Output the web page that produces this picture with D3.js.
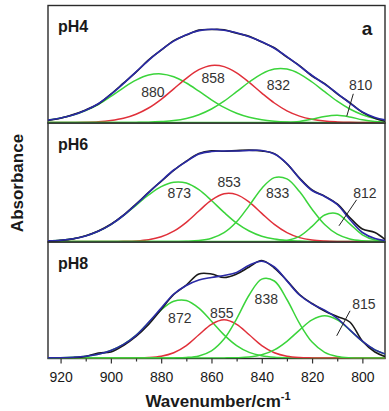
<!DOCTYPE html>
<html>
<head>
<meta charset="utf-8">
<script src="https://cdn.jsdelivr.net/npm/d3@7"></script>
<style>
  body { margin: 0; background: #fff; }
  text { font-family: "Liberation Sans", Arial, sans-serif; fill: #1a1a1a; }
</style>
</head>
<body>
<script>
// wavenumber grid (cm-1) shared by every curve
let wavenumbers = [925, 920, 915, 910, 905, 900, 895, 890, 885, 880, 875, 870, 865, 860,
    855, 850, 845, 840, 835, 830, 825, 820, 815, 810, 805, 800, 795, 790]

// pH4 (absorbance, arbitrary units)
let ph4_exp = [2.1, 4.2, 7.9, 12.6, 18.5, 28.4, 39.3, 50.3, 62.6, 72.3, 81.9, 87.4, 92.4, 93.0,
    92.7, 89.2, 86.2, 80.4, 74.7, 65.3, 56.9, 46.5, 38.8, 28.6, 19.9, 10.1, 4.3, 0.6]
let ph4_fit = [2.5, 4.5, 7.6, 12.3, 18.8, 28.1, 38.9, 50.7, 62.2, 72.7, 81.4, 87.8, 91.9, 93.3,
    92.3, 89.7, 85.8, 80.8, 74.2, 65.8, 56.4, 47.0, 38.3, 29.2, 19.3, 10.6, 5.0, 2.1]
let ph4_880 = [2.5, 4.5, 7.5, 12, 18, 26.1, 34.7, 42.3, 47.4, 48.6, 45.8, 39.5, 31.3, 22.7,
    15.1, 9.2, 5.2, 2.7, 1.3, 0.5, 0.2, 0, 0, 0, 0, 0, 0, 0]
let ph4_858 = [0, 0, 0.1, 0.3, 0.8, 2.0, 4.2, 8.3, 14.5, 23.2, 33.7, 44.2, 52.8, 57.1,
    55.9, 49.7, 40.1, 29.4, 19.5, 11.7, 6.4, 3.2, 1.4, 0.6, 0.2, 0.1, 0, 0]
let ph4_832 = [0, 0, 0, 0, 0, 0, 0, 0.1, 0.3, 0.9, 1.9, 4.1, 7.8, 13.5,
    21.3, 30.8, 40.5, 48.7, 53.4, 53.4, 48.7, 40.5, 30.8, 21.3, 13.5, 7.8, 4.1, 1.9]
let ph4_810 = [0, 0, 0, 0, 0, 0, 0, 0, 0, 0, 0, 0, 0, 0,
    0, 0, 0, 0, 0, 0.2, 1.1, 3.3, 6.1, 7.3, 5.6, 2.7, 0.9, 0.2]

// pH6
let ph6_exp = [0.3, 1.1, 2.6, 5.8, 10.5, 17.2, 26.3, 37.4, 49.1, 60.2, 71.2, 80.4, 87.9, 90.6,
    90.2, 90.9, 91.4, 90.6, 87.9, 77.6, 63.4, 51.5, 45.4, 37.6, 24.0, 12.5, 9.0, 0]
let ph6_fit = [0.6, 1.3, 2.8, 5.6, 10.2, 16.9, 26.0, 37.0, 48.8, 60.5, 71.5, 80.0, 87.5, 90.0,
    90.5, 90.5, 91.0, 91.0, 87.5, 78.0, 63.0, 51.0, 45.0, 37.0, 22.0, 9.0, 3.0, 0.5]
let ph6_873 = [0.6, 1.3, 2.8, 5.6, 10.2, 16.9, 25.8, 36.2, 46.5, 54.9, 59.3, 58.5, 51.8, 41.0,
    29.1, 18.4, 10.5, 5.3, 2.4, 1.0, 0.4, 0.1, 0, 0, 0, 0, 0, 0]
let ph6_853 = [0, 0, 0, 0, 0, 0, 0.2, 0.6, 1.8, 4.7, 10.3, 19.2, 30.5, 41.3,
    47.7, 46.9, 39.4, 28.1, 17.1, 8.9, 3.9, 1.5, 0.5, 0.1, 0, 0, 0, 0]
let ph6_833 = [0, 0, 0, 0, 0, 0, 0, 0, 0, 0, 0, 0.2, 0.9, 3.2,
    8.8, 19.7, 35.9, 53.1, 63.9, 62.6, 49.9, 32.3, 17.0, 7.3, 2.5, 0.7, 0.2, 0]
let ph6_812 = [0, 0, 0, 0, 0, 0, 0, 0, 0, 0, 0, 0, 0, 0,
    0, 0, 0, 0, 0.1, 1.1, 5.2, 15.1, 26.5, 27.8, 17.6, 6.7, 1.5, 0.2]

// pH8
let ph8_exp = [0, 0, 0.3, 1.5, 5.0, 6.0, 12.5, 21.5, 33.5, 48.5, 63.5, 73.0, 84.0, 84.0,
    80.5, 84.0, 91.0, 97.5, 90.0, 77.5, 63.5, 54.5, 47.0, 41.5, 36.0, 17.0, 6.0, 0.5]
let ph8_fit = [0.1, 0.3, 0.8, 1.8, 3.8, 7.5, 13.6, 22.7, 35.7, 49.9, 64.0, 72.5, 78.0, 80.5,
    82.5, 85.6, 92.8, 96.7, 91.0, 77.1, 63.0, 54.1, 47.9, 39.7, 28.2, 16.8, 8.1, 3.2]
let ph8_872 = [0.1, 0.3, 0.8, 1.8, 3.8, 7.5, 13.6, 22.6, 35.3, 48.2, 56.7, 57.5, 49.8, 36.7,
    23.1, 12.4, 5.6, 2.2, 0.7, 0.2, 0.1, 0, 0, 0, 0, 0, 0, 0]
let ph8_855 = [0, 0, 0, 0, 0, 0, 0, 0.1, 0.4, 1.7, 5.2, 12.4, 23.2, 33.7,
    38.2, 33.7, 23.2, 12.4, 5.2, 1.7, 0.4, 0.1, 0, 0, 0, 0, 0, 0]
let ph8_838 = [0, 0, 0, 0, 0, 0, 0, 0, 0, 0, 0.1, 0.5, 2.1, 7.2,
    19.0, 39.2, 63.0, 78.9, 77.0, 58.5, 34.6, 15.9, 5.7, 1.6, 0.3, 0.1, 0, 0]
let ph8_815 = [0, 0, 0, 0, 0, 0, 0, 0, 0, 0, 0, 0, 0, 0,
    0.1, 0.3, 1.0, 3.2, 8.1, 16.7, 27.9, 38.1, 42.2, 38.1, 27.9, 16.7, 8.1, 3.2]

let panelNames = ["pH4", "pH6", "pH8"]
let peakNames = [["880", "858", "832", "810"], ["873", "853", "833", "812"], ["872", "855", "838", "815"]]
let majorTicks = [920, 900, 880, 860, 840, 820, 800]
let minorTicks = [910, 890, 870, 850, 830, 810]

// ---- layout ----
let width = 389, height = 411
let left = 48, right = 385
let tops = [5.5, 123, 242]
let bottoms = [123, 242, 358.5]
// label anchors in (wavenumber, absorbance) units
let labelAt = [
    [[883.3, 25.5], [859.3, 40], [833.4, 33], [800.7, 33]],
    [[872.8, 44], [853, 55], [833.7, 44], [799, 44]],
    [[872.6, 35.5], [855.9, 40.5], [838.2, 53.8], [799.4, 48.8]]
]
let leaderAt = [
    [[803.6, 28.7], [806.2, 6.3]],
    [[802.3, 41.7], [809.3, 15.7]],
    [[804.9, 47.2], [810.2, 22.2]]
]
let green = "#3bd43b", red = "#e0303a", blue = "#2a2aa6", black = "#1a1a1a"

let panels = [
    {exp: ph4_exp, fit: ph4_fit, comps: [ph4_880, ph4_858, ph4_832, ph4_810]},
    {exp: ph6_exp, fit: ph6_fit, comps: [ph6_873, ph6_853, ph6_833, ph6_812]},
    {exp: ph8_exp, fit: ph8_fit, comps: [ph8_872, ph8_855, ph8_838, ph8_815]}
]

let svg = d3.select("body").append("svg")
    .attr("width", width)
    .attr("height", height)

let x = d3.scaleLinear().domain([925, 791]).range([left, right])

panels.forEach(function(p, i) {
    let y = d3.scaleLinear().domain([0, 100]).range([bottoms[i] - 0.5, bottoms[i] - 100.5])
    let line = d3.line()
        .x((d, j) => x(wavenumbers[j]))
        .y(d => y(d))
        .curve(d3.curveCatmullRom.alpha(0.5))

    // frame
    svg.append("rect")
        .attr("x", left).attr("y", tops[i])
        .attr("width", right - left).attr("height", bottoms[i] - tops[i])
        .attr("fill", "none").attr("stroke", "#2b2b2b").attr("stroke-width", 1.4)

    svg.append("clipPath").attr("id", "clip" + i)
        .append("rect")
        .attr("x", left).attr("y", tops[i])
        .attr("width", right - left).attr("height", bottoms[i] - tops[i])

    let g = svg.append("g").attr("clip-path", "url(#clip" + i + ")")

    g.selectAll(".comp")
        .data(p.comps)
        .enter().append("path")
        .attr("d", line)
        .attr("fill", "none")
        .attr("stroke", (d, k) => k == 1 ? red : green)
        .attr("stroke-width", 1.5)

    g.append("path").attr("d", line(p.exp))
        .attr("fill", "none").attr("stroke", black).attr("stroke-width", 1.6)
    g.append("path").attr("d", line(p.fit))
        .attr("fill", "none").attr("stroke", blue).attr("stroke-width", 1.6)

    // peak labels
    svg.selectAll(".lab" + i)
        .data(peakNames[i])
        .enter().append("text")
        .attr("x", (d, k) => x(labelAt[i][k][0]))
        .attr("y", (d, k) => y(labelAt[i][k][1]))
        .attr("text-anchor", "middle")
        .attr("font-size", 14)
        .style("fill", "#333")
        .text(d => d)

    svg.append("line")
        .attr("x1", x(leaderAt[i][0][0])).attr("y1", y(leaderAt[i][0][1]))
        .attr("x2", x(leaderAt[i][1][0])).attr("y2", y(leaderAt[i][1][1]))
        .attr("stroke", "#222").attr("stroke-width", 1)

    svg.append("text")
        .attr("x", 58).attr("y", tops[i] + 26.5)
        .attr("font-size", 16).attr("font-weight", "bold")
        .text(panelNames[i])
})

svg.append("text")
    .attr("x", 367).attr("y", 35)
    .attr("text-anchor", "middle")
    .attr("font-size", 19).attr("font-weight", "bold")
    .text("a")

// x axis
let axisG = svg.append("g").attr("transform", "translate(0," + bottoms[2] + ")")
axisG.call(d3.axisBottom(x).tickValues(majorTicks).tickSize(5).tickPadding(8.5))
axisG.select(".domain").remove()
axisG.selectAll("text").attr("font-size", 14).style("font-family", "Liberation Sans, Arial, sans-serif").style("fill", "#1a1a1a")
axisG.selectAll("line").attr("stroke", "#333").attr("stroke-width", 1.2)

let minorG = svg.append("g").attr("transform", "translate(0," + bottoms[2] + ")")
minorG.call(d3.axisBottom(x).tickValues(minorTicks).tickSize(3).tickFormat(""))
minorG.select(".domain").remove()
minorG.selectAll("line").attr("stroke", "#333").attr("stroke-width", 1.2)

// axis titles
let xt = svg.append("text")
    .attr("x", 218).attr("y", 407)
    .attr("text-anchor", "middle")
    .attr("font-size", 17).attr("font-weight", "bold")
xt.append("tspan").text("Wavenumber/cm")
xt.append("tspan").attr("font-size", 11).attr("dy", -7).text("-1")

svg.append("text")
    .attr("transform", "translate(23,183) rotate(-90)")
    .attr("text-anchor", "middle")
    .attr("font-size", 17).attr("font-weight", "bold")
    .text("Absorbance")
</script>
</body>
</html>
